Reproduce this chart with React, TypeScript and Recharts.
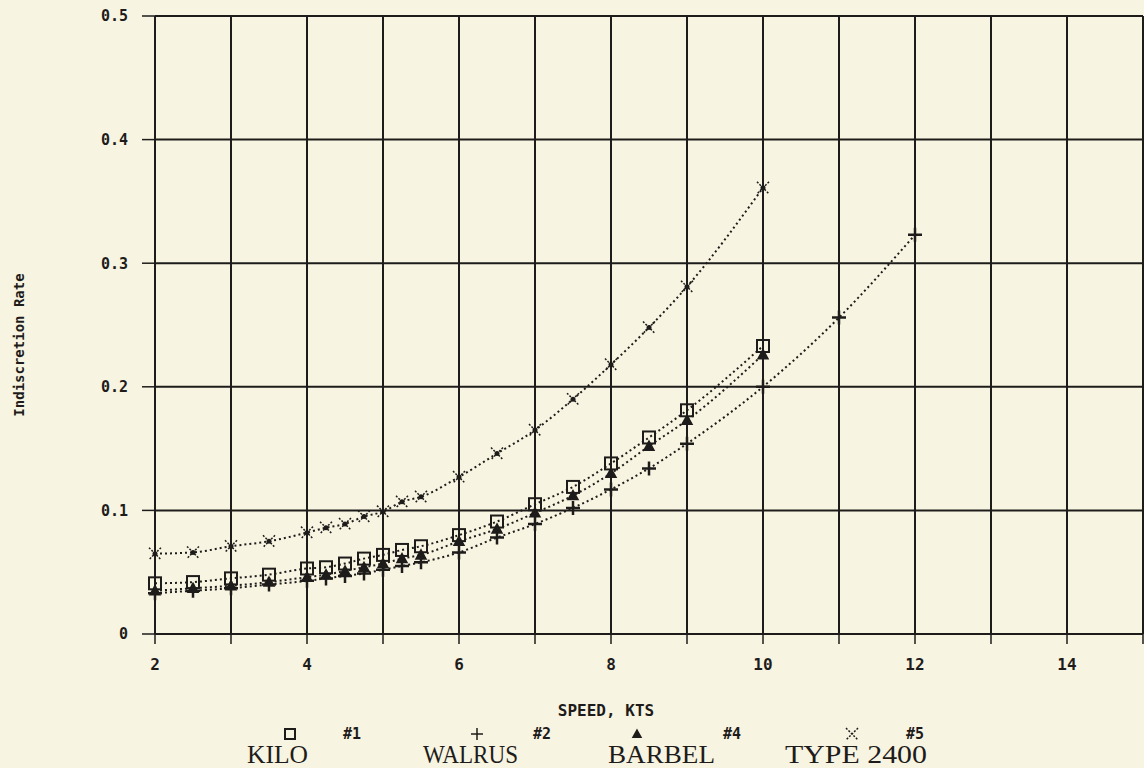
import React from 'react';
import { LineChart, Line, XAxis, YAxis, CartesianGrid } from 'recharts';

// speeds in knots
const speedKts = [2, 2.5, 3, 3.5, 4, 4.25, 4.5, 4.75, 5, 5.25, 5.5, 6, 6.5, 7, 7.5, 8, 8.5, 9, 10];
const walrusSpeedKts = [2, 2.5, 3, 3.5, 4, 4.25, 4.5, 4.75, 5, 5.25, 5.5, 6, 6.5, 7, 7.5, 8, 8.5, 9, 10, 11, 12];

const kiloRate = [0.041, 0.042, 0.045, 0.048, 0.053, 0.054, 0.057, 0.061, 0.064, 0.068, 0.071, 0.080, 0.091, 0.105, 0.119, 0.138, 0.159, 0.181, 0.233];
const walrusRate = [0.033, 0.035, 0.037, 0.040, 0.043, 0.045, 0.047, 0.049, 0.052, 0.055, 0.058, 0.066, 0.078, 0.089, 0.102, 0.117, 0.134, 0.154, 0.200, 0.256, 0.323];
const barbelRate = [0.035, 0.037, 0.039, 0.042, 0.046, 0.048, 0.051, 0.054, 0.057, 0.061, 0.064, 0.075, 0.085, 0.098, 0.112, 0.130, 0.152, 0.173, 0.226];
const type2400Rate = [0.065, 0.066, 0.071, 0.075, 0.082, 0.086, 0.089, 0.095, 0.099, 0.107, 0.111, 0.127, 0.146, 0.165, 0.190, 0.218, 0.248, 0.281, 0.361];

const xTicks = [2, 3, 4, 5, 6, 7, 8, 9, 10, 11, 12, 13, 14, 15];
const yTicks = [0, 0.1, 0.2, 0.3, 0.4, 0.5];

const legendTags = ['#1', '#2', '#4', '#5'];
const legendNames = ['KILO', 'WALRUS', 'BARBEL', 'TYPE 2400'];

const toRows = (xs: number[], ys: number[]) => xs.map((speed, i) => ({ speed, rate: ys[i] }));

const kiloData = toRows(speedKts, kiloRate);
const walrusData = toRows(walrusSpeedKts, walrusRate);
const barbelData = toRows(speedKts, barbelRate);
const type2400Data = toRows(speedKts, type2400Rate);

const INK = '#1e1c1a';
const PAPER = '#f8f4e2';
const pixelFont = "'DejaVu Sans Mono', monospace";

// marker shapes, also reused in the legend
const squareMark = (cx: number, cy: number, s = 6) => (
    <rect x={cx - s} y={cy - s} width={s * 2} height={s * 2} fill="none" stroke={INK} strokeWidth={2} />
);
const plusMark = (cx: number, cy: number, s = 7, w = 2.5) => (
    <path d={`M${cx - s},${cy}H${cx + s}M${cx},${cy - s}V${cy + s}`} stroke={INK} strokeWidth={w} />
);
const triMark = (cx: number, cy: number, s = 5) => (
    <path d={`M${cx},${cy - s}L${cx + s},${cy + s * 0.8}L${cx - s},${cy + s * 0.8}Z`} fill={INK} stroke={INK} strokeWidth={1.5} />
);
const crossMark = (cx: number, cy: number, s = 6, dotR = 2.5) => (
    <g>
        <path d={`M${cx - s},${cy - s}L${cx + s},${cy + s}M${cx + s},${cy - s}L${cx - s},${cy + s}`} stroke={INK} strokeWidth={1.5} strokeDasharray="2 1.5" />
        {dotR > 0 && <circle cx={cx} cy={cy} r={dotR} fill={INK} />}
    </g>
);

const SquareDot = (p: any) => <g key={`sq-${p.index}`}>{squareMark(p.cx, p.cy)}</g>;
const PlusDot = (p: any) => <g key={`pl-${p.index}`}>{plusMark(p.cx, p.cy)}</g>;
const TriDot = (p: any) => <g key={`tr-${p.index}`}>{triMark(p.cx, p.cy)}</g>;
const CrossDot = (p: any) => <g key={`cr-${p.index}`}>{crossMark(p.cx, p.cy)}</g>;

const legendSymX = [290, 477, 637, 852];
const legendTagX = [352, 542, 732, 915];
const nameX = [247, 423, 608, 785];
const nameW = [61, 95, 107, 142];

const App: React.FC = () => {
    return (
        <div style={{ position: 'fixed', left: 0, top: 0, width: 1144, height: 768, background: PAPER, overflow: 'hidden' }}>
            <LineChart width={1144} height={768} margin={{ top: 16, right: 1, bottom: 94, left: 0 }}>
                <CartesianGrid stroke={INK} strokeWidth={2} />
                <XAxis
                    type="number"
                    dataKey="speed"
                    domain={[2, 15]}
                    ticks={xTicks}
                    interval={0}
                    allowDuplicatedCategory={false}
                    tickFormatter={(v: number) => (v % 2 === 0 && v < 15 ? String(v) : '')}
                    height={40}
                    tickSize={10}
                    tickMargin={15}
                    axisLine={{ stroke: INK, strokeWidth: 2 }}
                    tickLine={{ stroke: INK, strokeWidth: 1.5 }}
                    tick={{ fill: INK, fontFamily: pixelFont, fontWeight: 'bold', fontSize: 16 }}
                />
                <YAxis
                    type="number"
                    dataKey="rate"
                    domain={[0, 0.5]}
                    ticks={yTicks}
                    width={155}
                    tickSize={13}
                    tickMargin={14}
                    tickFormatter={(v: number) => (v === 0 ? '0' : v.toFixed(1))}
                    axisLine={{ stroke: INK, strokeWidth: 2 }}
                    tickLine={{ stroke: INK, strokeWidth: 1.5 }}
                    tick={{ fill: INK, fontFamily: pixelFont, fontWeight: 'bold', fontSize: 15 }}
                />
                <Line data={type2400Data} dataKey="rate" type="monotone" stroke={INK} strokeWidth={2} strokeDasharray="2 3" dot={CrossDot} isAnimationActive={false} />
                <Line data={kiloData} dataKey="rate" type="monotone" stroke={INK} strokeWidth={2} strokeDasharray="2 3" dot={SquareDot} isAnimationActive={false} />
                <Line data={barbelData} dataKey="rate" type="monotone" stroke={INK} strokeWidth={2} strokeDasharray="2 3" dot={TriDot} isAnimationActive={false} />
                <Line data={walrusData} dataKey="rate" type="monotone" stroke={INK} strokeWidth={2} strokeDasharray="2 3" dot={PlusDot} isAnimationActive={false} />
            </LineChart>

            <svg width={1144} height={768} style={{ position: 'absolute', left: 0, top: 0, pointerEvents: 'none' }}>
                <text
                    x={19}
                    y={345}
                    transform="rotate(-90 19 345)"
                    textAnchor="middle"
                    dominantBaseline="central"
                    fontFamily={pixelFont}
                    fontWeight="bold"
                    fontSize={14}
                    fill={INK}
                >
                    Indiscretion Rate
                </text>

                <text x={606} y={710} textAnchor="middle" dominantBaseline="central" fontFamily={pixelFont} fontWeight="bold" fontSize={16} fill={INK}>
                    SPEED, KTS
                </text>

                {squareMark(legendSymX[0], 734, 5)}
                {plusMark(legendSymX[1], 734, 6, 1.5)}
                {triMark(legendSymX[2], 734, 4)}
                {crossMark(legendSymX[3], 734, 6, 0)}

                {legendTags.map((t, i) => (
                    <text key={`tag-${i}`} x={legendTagX[i]} y={734} textAnchor="middle" dominantBaseline="central" fontFamily={pixelFont} fontWeight="bold" fontSize={15} fill={INK}>
                        {t}
                    </text>
                ))}

                {legendNames.map((n, i) => (
                    <text
                        key={`nm-${i}`}
                        x={nameX[i]}
                        y={763}
                        textLength={nameW[i]}
                        lengthAdjust="spacingAndGlyphs"
                        fontFamily="'Liberation Serif', serif"
                        fontSize={26}
                        fill={INK}
                    >
                        {n}
                    </text>
                ))}
            </svg>
        </div>
    );
};

export default App;
